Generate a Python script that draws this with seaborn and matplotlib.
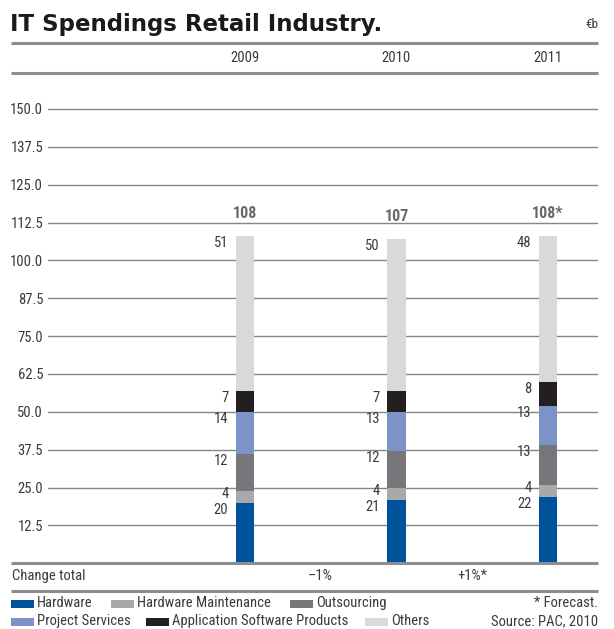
import matplotlib
matplotlib.use("Agg")
import matplotlib.pyplot as plt
import matplotlib.transforms as mtransforms
from matplotlib.lines import Line2D
from matplotlib.patches import Rectangle
import numpy as np
import pandas as pd
import seaborn as sns

# ---- data (EUR billion) ----
years = ["2009", "2010", "2011"]
segments = ["Hardware", "Hardware Maintenance", "Outsourcing",
            "Project Services", "Application Software Products", "Others"]
hardware = [20, 21, 22]
hw_maintenance = [4, 4, 4]
outsourcing = [12, 12, 13]
project_services = [14, 13, 13]
app_software = [7, 7, 8]
others = [51, 50, 48]
total_labels = ["108", "107", "108*"]
change_labels = ["\u20131%", "+1%*"]
yticks = [12.5, 25.0, 37.5, 50.0, 62.5, 75.0, 87.5, 100.0, 112.5, 125.0, 137.5, 150.0]
colors = ["#00529b", "#a9a9ac", "#77777b", "#7b93c6", "#231f20", "#d9d9db"]

series = [hardware, hw_maintenance, outsourcing, project_services, app_software, others]

sns.set_theme(style="white")
plt.rcParams["font.family"] = ["Liberation Sans Narrow", "Roboto Condensed", "DejaVu Sans"]

W, H = 614, 629
fig = plt.figure(figsize=(W / 100, H / 100), dpi=100)
fig.patch.set_facecolor("white")


def fx(px):
    return px / W


def fy(py):
    return 1 - py / H


TXT = "#3a3a3a"
RULE = "#8e8e8e"
FS = 10.5

# plot area: value 0 at the heavy baseline, a little headroom above 150
Y0, PX_PER_UNIT, YMAX = 563.3, 3.029, 151.5
ax = fig.add_axes([fx(48), fy(Y0), fx(598) - fx(48),
                   fy(Y0 - YMAX * PX_PER_UNIT) - fy(Y0)])

# long-form table with cumulative stack heights
cum = np.cumsum(np.array(series), axis=0)
df = pd.DataFrame({"year": years})
for k in range(len(segments)):
    df[f"cum{k}"] = cum[k]

# layered stacked bars: tallest stack first, each lower level drawn over it
for k in range(len(segments) - 1, -1, -1):
    sns.barplot(data=df, x="year", y=f"cum{k}", order=years, color=colors[k],
                saturation=1, width=0.125, ax=ax, zorder=3, linewidth=0)

ax.set_xlim(-1.30, 2.33)
ax.set_ylim(0, YMAX)
ax.set_yticks(yticks)
ax.set_yticklabels([f"{v:.1f}" for v in yticks], color=TXT, fontsize=FS)
ax.set_xticks([])
ax.set_xlabel("")
ax.set_ylabel("")
ax.tick_params(axis="y", length=0, pad=3.5)
ax.yaxis.grid(True, color="#858585", linewidth=1.0)
ax.set_axisbelow(True)
for s in ax.spines.values():
    s.set_visible(False)
ax.patch.set_alpha(0)

# segment values on the left of each segment's top edge, plus bold totals;
# thin segments get their label lifted so it clears the one below
half = 0.125 / 2
for i in range(len(years)):
    for k, vals in enumerate(series):
        seg_px = vals[i] * PX_PER_UNIT
        dy = -3 if seg_px < 14 else -7
        ax.annotate(str(vals[i]), xy=(i - half, cum[k][i]), xytext=(-7, dy),
                    textcoords="offset pixels", ha="right", va="center",
                    fontsize=FS, color=TXT)
    ax.annotate(total_labels[i], xy=(i, cum[-1][i]), xytext=(0, 23),
                textcoords="offset pixels", ha="center", va="center",
                fontsize=11.5, fontweight="bold", color="#69696b")

blend = mtransforms.blended_transform_factory(ax.transData, fig.transFigure)

# year header row
for i, y in enumerate(years):
    ax.text(i, fy(58), y, transform=blend, ha="center", va="center",
            fontsize=FS, color=TXT)

# change row
fig.text(fx(12), fy(576), "Change total", ha="left", va="center", fontsize=FS, color=TXT)
for j, lab in enumerate(change_labels):
    ax.text(j + 0.5, fy(576), lab, transform=blend, ha="center", va="center",
            fontsize=FS, color=TXT)

# heavy rules
for py in (43, 73, 563.3, 591):
    fig.add_artist(Line2D([fx(11), fx(598)], [fy(py), fy(py)], lw=2.2,
                          color=RULE, solid_capstyle="butt"))

# title and unit
fig.text(fx(10), fy(31), "IT Spendings Retail Industry.", ha="left", va="baseline",
         fontsize=16.5, fontweight="bold", color="#1a1a1a", family="DejaVu Sans")
fig.text(fx(598), fy(24), "\u20acb", ha="right", va="center", fontsize=9.5, color=TXT)

# legend
legend_items = [
    (0, 11, 603), (1, 111, 603), (2, 290, 603),
    (3, 11, 621), (4, 146, 621), (5, 365, 621),
]
for k, px, py in legend_items:
    fig.add_artist(Rectangle((fx(px), fy(py + 5)), fx(23), 8 / H,
                             facecolor=colors[k], edgecolor="none",
                             transform=fig.transFigure))
    fig.text(fx(px + 26), fy(py), segments[k], ha="left", va="center",
             fontsize=FS, color=TXT)

fig.text(fx(598), fy(603), "* Forecast.", ha="right", va="center", fontsize=FS, color=TXT)
fig.text(fx(598), fy(621), "Source: PAC, 2010", ha="right", va="center", fontsize=FS, color=TXT)

fig.savefig("out.png", dpi=100, facecolor="white")
